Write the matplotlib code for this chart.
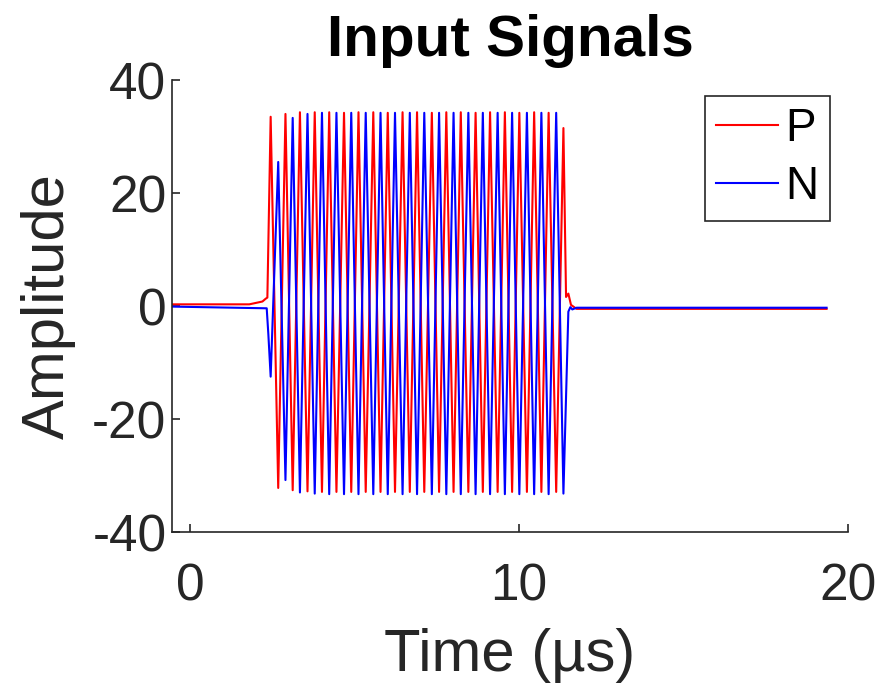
import matplotlib.pyplot as plt

plt.rcParams['font.family'] = ['Liberation Sans', 'DejaVu Sans']
plt.rcParams['axes.unicode_minus'] = False

# P channel: baseline, burst extremes (peak / trough alternating), tail
p_t = [-0.55, 1.80, 2.20, 2.30, 2.35,
       2.45, 2.68, 2.90, 3.12, 3.34, 3.57, 3.79, 4.01, 4.23, 4.45,
       4.68, 4.90, 5.12, 5.34, 5.57, 5.79, 6.01, 6.23, 6.46, 6.68,
       6.90, 7.12, 7.35, 7.57, 7.79, 8.01, 8.23, 8.46, 8.68, 8.90,
       9.12, 9.35, 9.57, 9.79, 10.01, 10.24, 10.46, 10.68, 10.90, 11.13,
       11.35,
       11.43, 11.50, 11.58, 11.75, 19.35]
p_v = [0.3, 0.3, 0.8, 1.3, 1.5,
       33.5, -32.2, 34.0, -32.6, 34.3, -32.8, 34.3, -32.9, 34.3, -32.9,
       34.2, -32.9, 34.3, -32.9, 34.3, -32.9, 34.2, -32.9, 34.3, -32.9,
       34.3, -32.9, 34.2, -32.9, 34.3, -32.9, 34.3, -32.9, 34.2, -32.9,
       34.3, -32.9, 34.3, -32.9, 34.2, -32.9, 34.3, -32.9, 34.2, -32.9,
       31.5,
       1.6, 2.2, 0.2, -0.5, -0.5]

# N channel
n_t = [-0.55, 2.33, 2.38,
       2.45, 2.68, 2.90, 3.12, 3.34, 3.57, 3.79, 4.01, 4.23, 4.45,
       4.68, 4.90, 5.12, 5.34, 5.57, 5.79, 6.01, 6.23, 6.46, 6.68,
       6.90, 7.12, 7.35, 7.57, 7.79, 8.01, 8.23, 8.46, 8.68, 8.90,
       9.12, 9.35, 9.57, 9.79, 10.01, 10.24, 10.46, 10.68, 10.90, 11.13,
       11.35,
       11.50, 11.56, 11.62, 11.75, 19.35]
n_v = [-0.1, -0.4, -5.0,
       -12.5, 25.5, -30.8, 33.3, -33.0, 34.0, -33.2, 34.2, -33.3, 34.2,
       -33.3, 34.2, -33.3, 34.2, -33.3, 34.2, -33.3, 34.2, -33.3, 34.2,
       -33.3, 34.2, -33.3, 34.2, -33.3, 34.2, -33.3, 34.2, -33.3, 34.2,
       -33.3, 34.2, -33.3, 34.2, -33.3, 34.2, -33.3, 34.2, -33.3, 34.2,
       -33.2,
       -1.0, -0.2, -0.6, -0.3, -0.3]

axis_col = '#262626'

fig = plt.figure(figsize=(8.81, 6.96), dpi=100)
ax = fig.add_axes([0.1952, 0.2356, 0.7673, 0.6494])

ax.plot(p_t, p_v, color='red', linewidth=1.5, label='P')
ax.plot(n_t, n_v, color='blue', linewidth=1.5, label='N')

ax.set_xlim(-0.55, 20)
ax.set_ylim(-40, 40)
ax.set_xticks([0, 10, 20])
ax.set_yticks([-40, -20, 0, 20, 40])

for side in ['top', 'right']:
    ax.spines[side].set_visible(False)
for side in ['left', 'bottom']:
    ax.spines[side].set_color(axis_col)
    ax.spines[side].set_linewidth(1.2)
ax.tick_params(direction='in', length=6, width=1.2, colors=axis_col,
               labelsize=37)
ax.tick_params(axis='x', pad=22)
ax.tick_params(axis='y', pad=4)

ax.set_xlabel('Time (µs)', fontsize=43, color=axis_col, labelpad=12)
ax.set_ylabel('Amplitude', fontsize=43, color=axis_col, labelpad=12)
ax.set_title('Input Signals', fontsize=42, fontweight='bold', pad=17)

leg = ax.legend(loc='upper right', bbox_to_anchor=(0.973, 0.965), fontsize=33,
                handlelength=1.35, handletextpad=0.15, borderpad=0.25,
                borderaxespad=0, labelspacing=0.3, fancybox=False,
                framealpha=1)
leg.get_frame().set_edgecolor(axis_col)
leg.get_frame().set_linewidth(1.2)

fig.savefig('out.png', dpi=100)
